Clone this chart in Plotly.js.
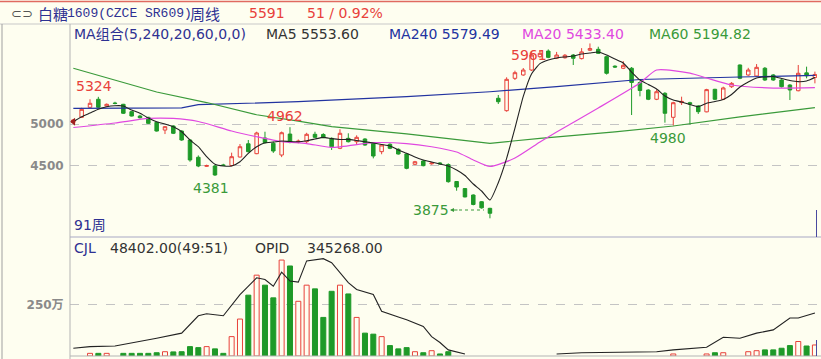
<!DOCTYPE html>
<html><head><meta charset="utf-8">
<script src="https://cdn.plot.ly/plotly-3.0.1.min.js"></script>
<style>html,body{margin:0;padding:0;background:#fefef0;}#chart{width:821px;height:359px;}</style>
</head><body><div id="chart"></div>
<script>
// ---- data (weekly candles, index 0..89) ----
const openP  = [5020,5080,5199,5295,5215,5250,5235,5147,5095,5080,5020,4928,4976,4916,4809,4603,4495,4499,4512,4505,
4606,4764,4646,4833,4770,4630,4880,4785,4789,4877,4875,4829,4710,4829,4789,4821,4770,4670,4758,4698,
4642,4519,4559,4525,4535,4517,4314,4230,4153,4073,3994,5307,5159,5545,5585,5644,5803,5870,5784,5790,
5823,5780,5880,5891,5803,5690,5665,5665,5495,5405,5295,5366,5080,5255,5254,5215,5145,5414,5295,5445,
5704,5585,5573,5665,5585,5525,5465,5397,5610,5555];
const highP  = [5055,5194,5295,5324,5245,5265,5240,5155,5110,5085,5025,4975,4985,4925,4815,4625,4515,4510,4525,4658,
4761,4809,4908,4908,4790,4910,4962,4815,4895,4908,4890,4840,4937,4889,4865,4830,4780,4760,4770,4710,
4650,4560,4570,4545,4545,4530,4320,4235,4160,4080,4000,5346,5557,5636,5668,5862,5883,5890,5860,5835,
5835,5905,5961,5922,5815,5700,5750,5680,5510,5415,5410,5380,5265,5326,5265,5225,5420,5420,5445,5500,
5710,5670,5715,5680,5595,5535,5475,5704,5684,5625];
const lowP   = [5015,5075,5195,5190,5210,5235,5120,5090,5065,5000,4910,4880,4880,4800,4550,4485,4488,4381,4500,4495,
4600,4660,4640,4765,4655,4605,4770,4770,4770,4835,4830,4690,4700,4780,4750,4740,4590,4639,4700,4635,
4460,4510,4495,4515,4515,4300,4204,4125,4030,3990,3875,5239,5147,5525,5575,5632,5790,5785,5775,5780,
5704,5770,5870,5835,5590,5670,5655,5107,5330,5285,5285,5016,4980,5227,4995,5120,5140,5285,5285,5430,
5535,5575,5565,5515,5515,5435,5286,5390,5545,5485];
const closeP = [5048,5175,5247,5199,5235,5245,5128,5095,5075,5008,4916,4968,4889,4809,4571,4499,4505,4392,4505,4610,
4729,4670,4893,4777,4678,4896,4779,4795,4877,4841,4837,4729,4889,4789,4841,4749,4618,4750,4710,4642,
4471,4550,4503,4535,4525,4312,4248,4130,4040,4000,3935,5266,5533,5612,5644,5823,5843,5795,5823,5820,
5784,5860,5900,5843,5605,5680,5700,5495,5400,5295,5385,5128,5254,5270,5239,5147,5410,5295,5430,5485,
5545,5644,5676,5525,5525,5445,5406,5605,5575,5591];
// volume (万), null = no bar drawn
const volume = [null,null,13,13,13,null,13,13,13,13,16,21,20,21,46,41,46,35,13,95,
181,298,396,347,285,470,441,268,347,329,189,317,347,304,189,112,107,95,51,35,
41,21,16,26,10,21,null,null,null,null,null,null,null,null,null,null,null,null,null,null,
null,null,null,null,null,null,null,null,null,null,null,null,10,null,null,null,10,16,16,null,
null,21,26,30,30,38,51,71,49,54];
// open interest line (same scale as volume), null = break
const opidWeek = [0,2,5,8,10,13,15,16,18,20,22,23,24,25,26,27,28,30,31,33,34,36,37,39,40,42,43,44,45,47,52,58,61,70,72,76,78,80,82,84,86,87,89];
const opidVal  = [38,46,49,71,87,112,197,207,197,301,383,375,342,411,367,362,466,477,457,359,326,301,219,191,178,145,95,66,30,10,null,10,16,21,30,43,92,87,112,128,186,186,211];
const ma5 = [5027,5087,5131,5175,5206,5218,5215,5167,5128,5072,5027,5000,4968,4908,4809,4729,4610,4519,4499,4499,
4550,4650,4729,4777,4785,4797,4791,4789,4801,4821,4841,4825,4815,4817,4803,4789,4773,4755,4738,4690,
4650,4606,4571,4547,4523,4499,4451,4386,4284,4201,4093,4300,4590,4950,5330,5600,5720,5764,5788,5800,
5811,5835,5847,5859,5823,5776,5728,5620,5525,5471,5418,5334,5286,5262,5233,5206,5247,5268,5292,5352,
5441,5501,5549,5561,5567,5543,5519,5505,5513,5554];
const ma20Week = [0,5,9,12,15,19,22,25,28,31,36,40,43,46,48,50,53,56,58,63,68,70,74,76,79,84,89];
const ma20Val  = [4958,5012,5066,5066,5030,4916,4848,4789,4767,4720,4777,4767,4729,4666,4571,4493,4594,4785,4905,5191,5489,5644,5608,5549,5465,5429,5433];
const ma60Week = [0,10,16,22,27,31,40,50,56,65,72,80,89];
const ma60Val  = [5665,5382,5256,5110,5035,4968,4883,4770,4829,4905,4976,5084,5195];
const ma240Week = [0,13,15,21,27,40,50,58,68,80,89];
const ma240Val  = [5187,5192,5230,5245,5266,5326,5385,5445,5531,5561,5579];
const priceTicks = [4500, 5000];
const volTicks = [250];
const volTickText = ['250万'];
const extremes = [
  {i:3,  kind:'high'}, {i:26, kind:'high'}, {i:17, kind:'low'},
  {i:50, kind:'low'},  {i:62, kind:'high'}, {i:72, kind:'low'}];
const extremeShift = [[-4,11],[-5,11],[-4,-12],[-59,8],[-61,-12],[-5,-12]];

// ---- styling ----
const BG = '#fefef0', RED = '#e8413a', GREEN = '#1e9a28', NAVY = '#2e3192';
const FONT = 'DejaVu Sans, Noto Sans CJK SC, sans-serif';
const weeks = closeP.map((_, i) => i);
const L = 70, R = 817, T = 24, B = 356;
const px = x => (x - L) / (R - L);
const py = y => (B - y) / (B - T);

const isUp = closeP.map((c, i) => c >= openP[i]);

const traces = [
  {type:'candlestick', x:weeks, open:openP, high:highP, low:lowP, close:closeP,
   xaxis:'x', yaxis:'y', whiskerwidth:0,
   increasing:{line:{color:RED, width:1}, fillcolor:BG},
   decreasing:{line:{color:GREEN, width:1}, fillcolor:GREEN}, hoverinfo:'skip'},
  {type:'scatter', mode:'lines', x:ma240Week, y:ma240Val, line:{color:'#2233a0', width:1.2}, yaxis:'y'},
  {type:'scatter', mode:'lines', x:ma60Week, y:ma60Val, line:{color:'#3a9a3a', width:1.2}, yaxis:'y'},
  {type:'scatter', mode:'lines', x:ma20Week, y:ma20Val, line:{color:'#e048e0', width:1.2, shape:'spline', smoothing:0.6}, yaxis:'y'},
  {type:'scatter', mode:'lines', x:weeks, y:ma5, line:{color:'#222222', width:1.1, shape:'spline', smoothing:0.5}, yaxis:'y'},
  {type:'scatter', mode:'markers', x:[weeks[0]], y:[ma5[0]], marker:{symbol:'triangle-left', size:7, color:'#a02020'}, yaxis:'y'},
  {type:'bar', x:weeks, y:volume, width:0.6, xaxis:'x', yaxis:'y2',
   marker:{color:isUp.map(u => u ? BG : GREEN), line:{color:isUp.map(u => u ? RED : GREEN), width:1}}},
  {type:'scatter', mode:'lines', x:opidWeek, y:opidVal, yaxis:'y2', connectgaps:false, line:{color:'#222222', width:1.1}}
];

const ann = [];
function txt(x, y, text, color, size, family, anchor) {
  ann.push({xref:'paper', yref:'paper', x:px(x), y:py(y), text:text, showarrow:false,
    xanchor:anchor || 'left', yanchor:'middle', font:{color:color, size:size, family:family || FONT}});
}
// header
txt(9, 13, '⊂⊃', '#555555', 13);
txt(36, 13, '白糖', NAVY, 15, 'Noto Sans CJK SC');
txt(65, 13.5, '1609(CZCE SR609)', NAVY, 13, 'Liberation Mono');
txt(188, 13, '周线', NAVY, 15, 'Noto Sans CJK SC');
txt(247, 13, String(closeP[closeP.length - 1]), RED, 14);
txt(305, 13, '51 / 0.92%', RED, 14);
// MA legend
txt(72, 34, 'MA组合(5,240,20,60,0,0)', NAVY, 14);
txt(264, 34, 'MA5 5553.60', '#333333', 14);
txt(387, 34, 'MA240 5579.49', '#2233a0', 14);
txt(520, 34, 'MA20 5433.40', '#e048e0', 14);
txt(647, 34, 'MA60 5194.82', '#3a9a3a', 14);
txt(72, 225, '91周', NAVY, 14);
// volume legend
txt(72, 248, 'CJL', NAVY, 14);
txt(108, 248, '48402.00(49:51)', '#333333', 14);
txt(253, 248, 'OPID', '#333333', 14);
txt(305, 248, '345268.00', '#333333', 14);
// extreme labels
extremes.forEach((e, k) => {
  const v = e.kind === 'high' ? highP[e.i] : lowP[e.i];
  ann.push({xref:'x', yref:'y', x:e.i, y:v, text:String(v), showarrow:false,
    xanchor:'center', yanchor:'middle', xshift:extremeShift[k][0], yshift:extremeShift[k][1],
    font:{color:e.kind === 'high' ? RED : '#3a9a3a', size:14, family:FONT}});
});
ann.push({xref:'paper', yref:'paper', x:px(450), y:py(210), ax:9, ay:0, text:'', showarrow:true,
  arrowhead:2, arrowsize:0.8, arrowwidth:1, arrowcolor:'#3a9a3a'});

const shapes = [];
function ln(x0, y0, x1, y1, color, width, dash) {
  shapes.push({type:'line', xref:'paper', yref:'paper', x0:px(x0), y0:py(y0), x1:px(x1), y1:py(y1),
    line:{color:color, width:width || 1, dash:dash || 'solid'}});
}
ln(0, 1.5, 821, 1.5, '#e06a60', 1.5);
ln(0, 24, 821, 24, '#c8c8c8', 1);
ln(L, 24, L, 359, '#b4b4b4', 1);
ln(2, 24, 2, 359, '#a0a0a0', 1);
ln(L, 237, 821, 237, '#a8a8c4', 1);
ln(L, 356, 821, 356, '#b4b4b4', 1);
ln(459, 210, 484, 210, '#3a9a3a', 1, 'dot');
ln(816.5, 210, 816.5, 237, '#4a4aa0', 1);
ln(816.5, 340, 816.5, 356, '#4a4aa0', 1);

const tickFont = {color:'#8a8a8a', size:12, family:FONT, weight:'bold'};
const layout = {
  width:821, height:359, margin:{l:L, r:821 - R, t:T, b:359 - B},
  paper_bgcolor:BG, plot_bgcolor:BG, showlegend:false, hovermode:false, dragmode:false,
  boxgap:0.4, bargap:0.4,
  xaxis:{range:[-0.4, 89.25], showgrid:false, zeroline:false, showticklabels:false, showline:false,
         ticks:'', anchor:'y2', rangeslider:{visible:false}, fixedrange:true},
  yaxis:{domain:[(B - 237) / (B - T), 1], range:[3652, 6193], tickvals:priceTicks, ticktext:priceTicks.map(String),
         showgrid:true, gridcolor:'#c4c4c4', griddash:'dash', zeroline:false, showline:false,
         ticks:'outside', ticklen:3, tickcolor:'rgba(0,0,0,0)', tickfont:tickFont, fixedrange:true},
  yaxis2:{domain:[0, (B - 237) / (B - T)], range:[0, 583], tickvals:volTicks, ticktext:volTickText,
         showgrid:true, gridcolor:'#c4c4c4', griddash:'dash', zeroline:false, showline:false,
         ticks:'outside', ticklen:3, tickcolor:'rgba(0,0,0,0)', tickfont:tickFont, fixedrange:true},
  annotations:ann, shapes:shapes
};
Plotly.newPlot('chart', traces, layout, {staticPlot:true, displayModeBar:false});
</script></body></html>
